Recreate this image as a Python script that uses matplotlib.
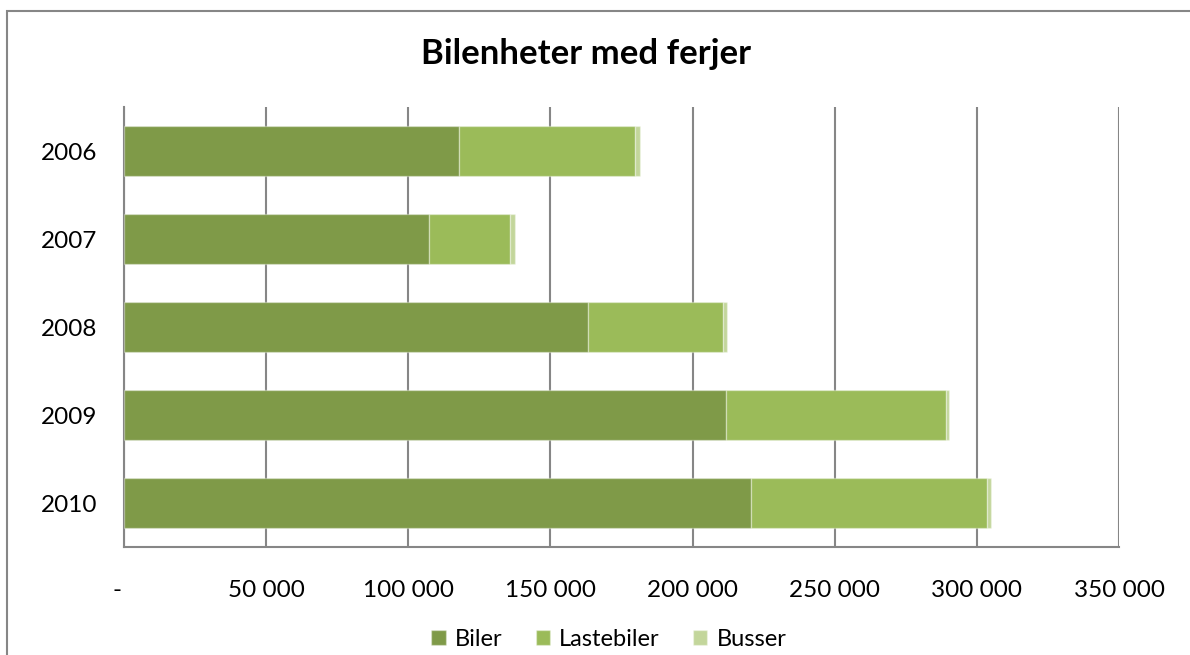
import numpy as np
import matplotlib.pyplot as plt
from matplotlib.patches import Rectangle

plt.rcParams['font.family'] = ['Lato', 'DejaVu Sans']

years = ['2006', '2007', '2008', '2009', '2010']
biler = [117800, 107200, 163200, 211800, 220500]
lastebiler = [62000, 28700, 47400, 77400, 83200]
busser = [1650, 1500, 1400, 1000, 1200]
xticks = [0, 50000, 100000, 150000, 200000, 250000, 300000, 350000]
xticklabels = ['-  ', '50 000', '100 000', '150 000', '200 000', '250 000', '300 000', '350 000']

W, H = 1190, 655
fig = plt.figure(figsize=(W / 100, H / 100), dpi=100)
ax = fig.add_axes([124 / W, 1 - 547 / H, (1119 - 124) / W, (547 - 107) / H])

grey = '#868686'
edge = (1, 1, 1, 0.35)
y = np.arange(len(years))
left2 = np.array(biler)
left3 = left2 + np.array(lastebiler)
ax.barh(y, biler, height=0.57, color='#7F9A48', edgecolor=edge, lw=1, label='Biler', zorder=3)
ax.barh(y, lastebiler, left=left2, height=0.57, color='#9BBB59', edgecolor=edge, lw=1,
        label='Lastebiler', zorder=3)
ax.barh(y, busser, left=left3, height=0.57, color='#C3D69B', edgecolor=edge, lw=1,
        label='Busser', zorder=3)

ax.set_xlim(0, 350000)
ax.set_ylim(len(years) - 0.5, -0.5)
ax.set_yticks(y)
ax.set_yticklabels(years)
ax.set_xticks(xticks)
ax.set_xticklabels(xticklabels)
ax.tick_params(axis='both', length=0, labelsize=17.5, colors='black')
ax.tick_params(axis='x', pad=24)
ax.tick_params(axis='y', pad=19)
ax.xaxis.grid(True, color=grey, lw=1.5, zorder=0)
for s in ['left', 'bottom']:
    ax.spines[s].set_color(grey)
    ax.spines[s].set_linewidth(1.5)
ax.spines['top'].set_visible(False)
ax.spines['right'].set_visible(False)

fig.text(586 / W, 1 - 54 / H, 'Bilenheter med ferjer', ha='center', va='center',
         fontsize=25, fontweight='bold')

fig.legend(loc='center', bbox_to_anchor=(609 / W, 1 - 639 / H), ncol=3, frameon=False,
           fontsize=17, handlelength=0.6, handleheight=0.6, handletextpad=0.4,
           columnspacing=1.4)

fig.patches.append(Rectangle((7 / W, -0.1), 1.2, 1.1 - 11 / H, transform=fig.transFigure,
                             fill=False, edgecolor=grey, lw=1.5))

plt.savefig('out.png', dpi=100)
